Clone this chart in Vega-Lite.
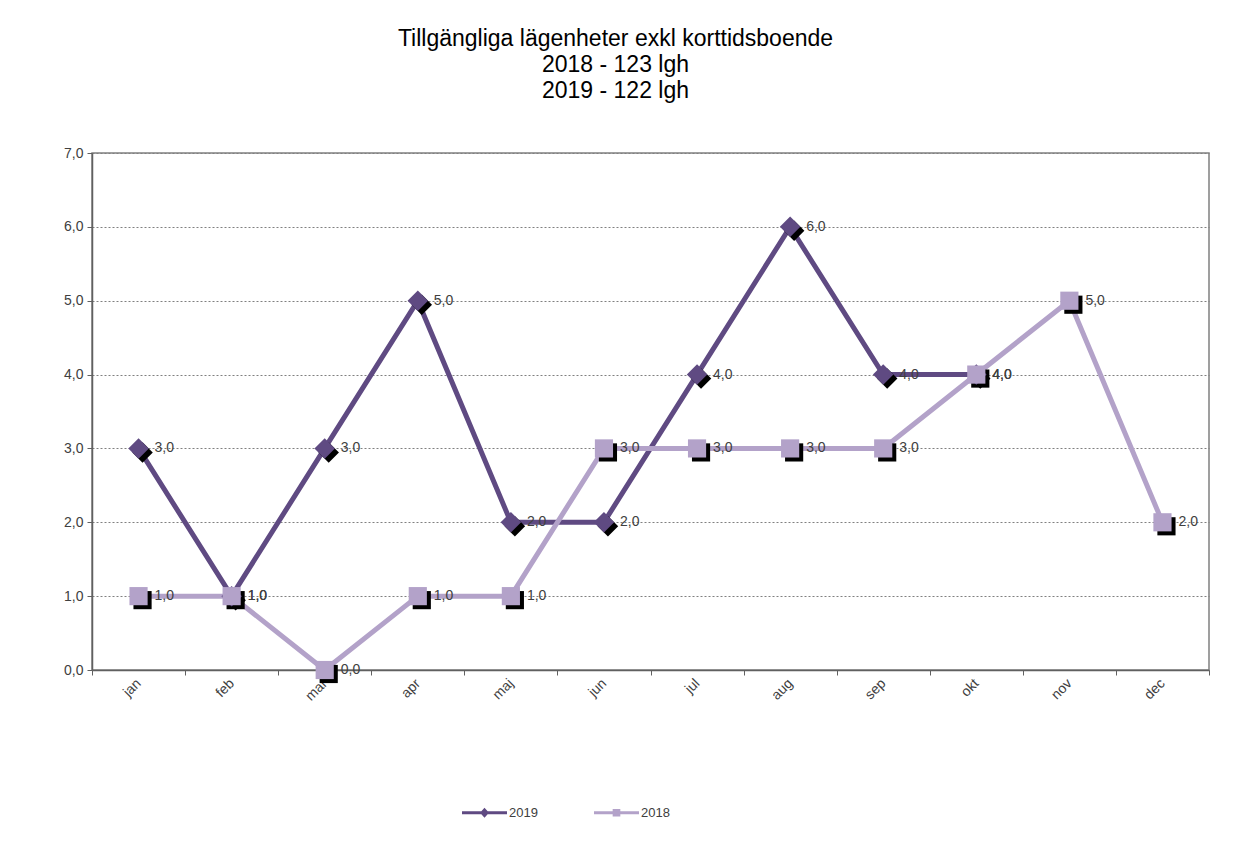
{
  "$schema": "https://vega.github.io/schema/vega-lite/v6.json",
  "width": 1117,
  "height": 517,
  "autosize": "none",
  "padding": {"left": 92, "top": 153, "right": 28, "bottom": 191},
  "background": "white",
  "config": {
    "locale": {"number": {"decimal": ",", "thousands": " ", "grouping": [3], "currency": ["", " kr"]}},
    "font": "Liberation Sans",
    "view": {"stroke": "#808080", "strokeWidth": 1.5}
  },
  "title": {
    "text": ["Tillgängliga  lägenheter  exkl  korttidsboende", "2018 - 123 lgh", "2019 - 122 lgh"],
    "fontSize": 23,
    "fontWeight": "normal",
    "font": "Liberation Sans",
    "color": "#000000",
    "anchor": "middle",
    "frame": "group",
    "dx": -35,
    "offset": 43,
    "lineHeight": 26
  },
  "data": {
    "values": [
      {"month": "jan", "series": "2019", "value": 3},
      {"month": "feb", "series": "2019", "value": 1},
      {"month": "mar", "series": "2019", "value": 3},
      {"month": "apr", "series": "2019", "value": 5},
      {"month": "maj", "series": "2019", "value": 2},
      {"month": "jun", "series": "2019", "value": 2},
      {"month": "jul", "series": "2019", "value": 4},
      {"month": "aug", "series": "2019", "value": 6},
      {"month": "sep", "series": "2019", "value": 4},
      {"month": "okt", "series": "2019", "value": 4},
      {"month": "jan", "series": "2018", "value": 1},
      {"month": "feb", "series": "2018", "value": 1},
      {"month": "mar", "series": "2018", "value": 0},
      {"month": "apr", "series": "2018", "value": 1},
      {"month": "maj", "series": "2018", "value": 1},
      {"month": "jun", "series": "2018", "value": 3},
      {"month": "jul", "series": "2018", "value": 3},
      {"month": "aug", "series": "2018", "value": 3},
      {"month": "sep", "series": "2018", "value": 3},
      {"month": "okt", "series": "2018", "value": 4},
      {"month": "nov", "series": "2018", "value": 5},
      {"month": "dec", "series": "2018", "value": 2}
    ]
  },
  "encoding": {
    "x": {
      "field": "month",
      "type": "ordinal",
      "sort": ["jan", "feb", "mar", "apr", "maj", "jun", "jul", "aug", "sep", "okt", "nov", "dec"],
      "bandPosition": 0.5,
      "scale": {"type": "band", "paddingInner": 0, "paddingOuter": 0},
      "axis": {
        "title": null,
        "tickBand": "extent",
        "labelAngle": -45,
        "labelAlign": "right",
        "labelBaseline": "middle",
        "labelFontSize": 14,
        "labelColor": "#404040",
        "labelPadding": 6,
        "domainColor": "#606060",
        "domainWidth": 1.5,
        "tickColor": "#606060",
        "tickSize": 5,
        "grid": false
      }
    },
    "y": {
      "field": "value",
      "type": "quantitative",
      "scale": {"domain": [0, 7], "nice": false},
      "axis": {
        "title": null,
        "values": [0, 1, 2, 3, 4, 5, 6, 7],
        "labelOverlap": false,
        "format": ".1f",
        "labelFontSize": 14,
        "labelColor": "#404040",
        "labelPadding": 4,
        "domainColor": "#606060",
        "domainWidth": 1.5,
        "tickColor": "#606060",
        "tickSize": 5,
        "grid": true,
        "gridColor": "#808080",
        "gridDash": [2, 2],
        "gridWidth": 1
      }
    }
  },
  "layer": [
    {
      "mark": {"type": "line", "strokeWidth": 5},
      "encoding": {
        "color": {
          "field": "series",
          "type": "nominal",
          "scale": {"domain": ["2019", "2018"], "range": ["#5f4a82", "#b3a2c9"]},
          "legend": {
            "orient": "none",
            "legendX": 370,
            "legendY": 637,
            "direction": "horizontal",
            "title": null,
            "symbolType": "M-1,-0.07H1V0.07H-1Z M-0.2,0L0,-0.22L0.2,0L0,0.22Z",
            "symbolSize": 2025,
            "labelFontSize": 13,
            "labelColor": "#404040",
            "columnPadding": 56,
            "labelOffset": 2,
            "symbolStrokeWidth": 0,
            "symbolOpacity": 1,
            "encode": {
              "symbols": {
                "update": {
                  "fill": {"scale": "color", "field": "value"},
                  "shape": {"signal": "datum.value === '2018' ? 'M-1,-0.07H1V0.07H-1Z M-0.17,-0.17H0.17V0.17H-0.17Z' : 'M-1,-0.07H1V0.07H-1Z M-0.2,0L0,-0.22L0.2,0L0,0.22Z'"},
                  "opacity": {"value": 1},
                  "fillOpacity": {"value": 1},
                  "strokeWidth": {"value": 0}
                }
              }
            }
          }
        }
      }
    },
    {
      "transform": [{"filter": "datum.series === '2019'"}],
      "mark": {"type": "point", "shape": "diamond", "filled": true, "color": "#000000", "opacity": 1, "size": 420, "xOffset": 4, "yOffset": 4}
    },
    {
      "transform": [{"filter": "datum.series === '2018'"}],
      "mark": {"type": "point", "shape": "square", "filled": true, "color": "#000000", "opacity": 1, "size": 330, "xOffset": 4, "yOffset": 4}
    },
    {
      "transform": [{"filter": "datum.series === '2019'"}],
      "mark": {"type": "point", "shape": "diamond", "filled": true, "opacity": 1, "size": 420},
      "encoding": {"color": {"field": "series", "type": "nominal"}}
    },
    {
      "transform": [{"filter": "datum.series === '2018'"}],
      "mark": {"type": "point", "shape": "square", "filled": true, "opacity": 1, "size": 330},
      "encoding": {"color": {"field": "series", "type": "nominal"}}
    },
    {
      "mark": {"type": "text", "align": "left", "baseline": "middle", "dx": 16, "fontSize": 14, "color": "#404040"},
      "encoding": {"text": {"field": "value", "type": "quantitative", "format": ".1f"}}
    }
  ]
}
